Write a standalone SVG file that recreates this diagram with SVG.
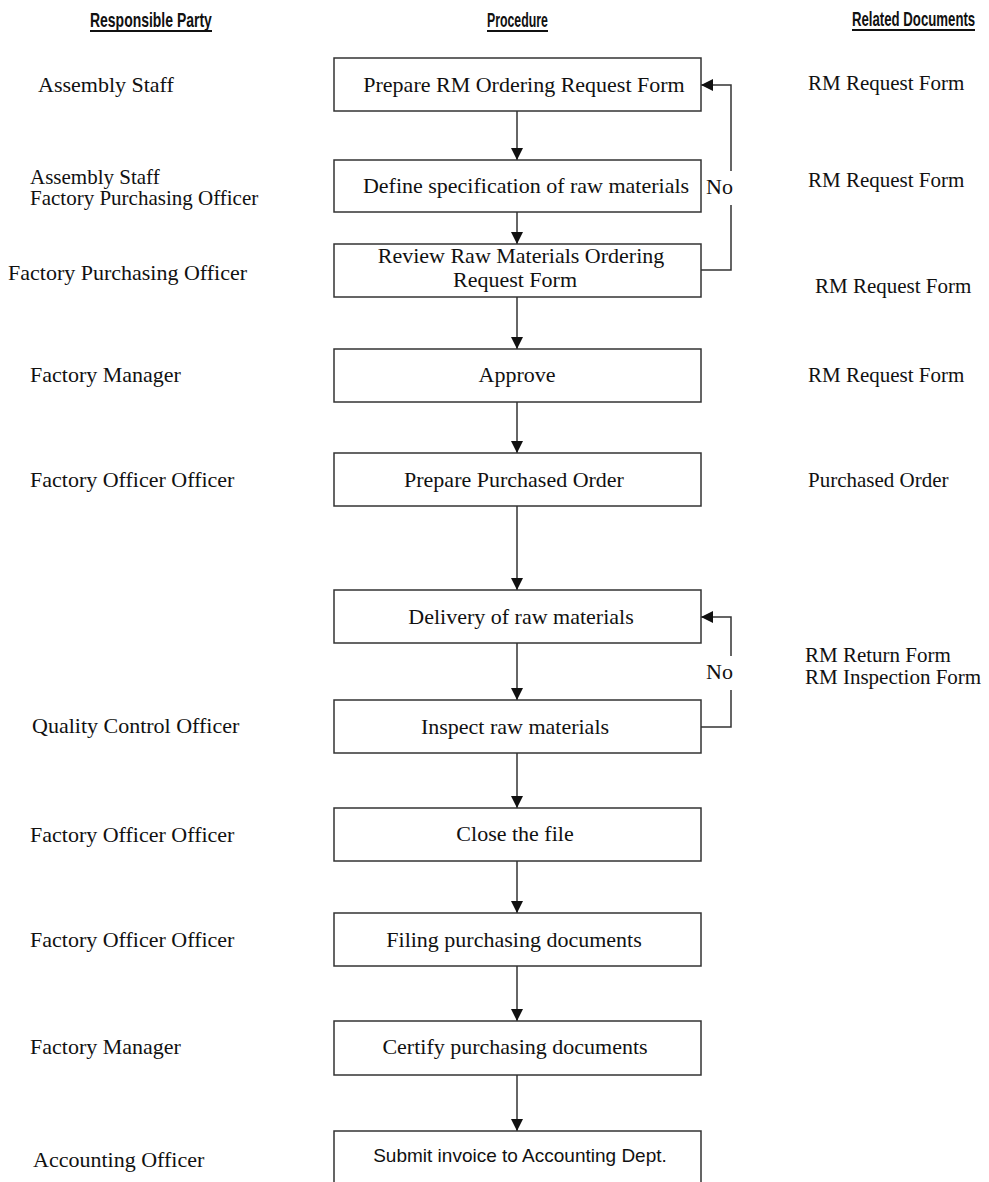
<svg xmlns="http://www.w3.org/2000/svg" width="989" height="1182" viewBox="0 0 989 1182">
  <style>
    .hdr { font-family: "Liberation Sans", Arial, sans-serif; font-weight: bold; font-size: 20px; fill: #111; }
    .ul { stroke: #111; stroke-width: 1.8; }
    .lbl { font-family: "Liberation Serif", "Times New Roman", serif; font-size: 22px; fill: #111; }
    .lbl2 { font-family: "Liberation Serif", "Times New Roman", serif; font-size: 21px; fill: #111; }
    .doc { font-family: "Liberation Serif", "Times New Roman", serif; font-size: 21px; fill: #111; }
    .box { fill: #fff; stroke: #333; stroke-width: 1.5; }
    .btx { font-family: "Liberation Serif", "Times New Roman", serif; font-size: 22px; fill: #111; text-anchor: middle; }
    .stx { font-family: "Liberation Sans", Arial, sans-serif; font-size: 19px; fill: #111; text-anchor: middle; }
    .ln { fill: none; stroke: #333; stroke-width: 1.5; }
  </style>
  <defs>
    <marker id="tri" viewBox="0 0 12 12" refX="12" refY="6" markerWidth="12" markerHeight="12" markerUnits="userSpaceOnUse" orient="auto">
      <path d="M0,0 L12,6 L0,12 Z" fill="#111"/>
    </marker>
  </defs>
  <rect width="989" height="1182" fill="#fff"/>

  <!-- column headings (condensed bold) -->
  <g id="headings">
    <text class="hdr" transform="translate(90,27) scale(0.7,1)" textLength="174" lengthAdjust="spacingAndGlyphs">Responsible Party</text>
    <line class="ul" x1="90" y1="31" x2="212" y2="31"/>
    <text class="hdr" transform="translate(487,27) scale(0.7,1)" textLength="87" lengthAdjust="spacingAndGlyphs">Procedure</text>
    <line class="ul" x1="487" y1="31" x2="548" y2="31"/>
    <text class="hdr" transform="translate(852,26) scale(0.7,1)" textLength="176" lengthAdjust="spacingAndGlyphs">Related Documents</text>
    <line class="ul" x1="852" y1="30" x2="975" y2="30"/>
  </g>

  <!-- responsible party column -->
  <g id="parties">
    <text class="lbl" x="38" y="92">Assembly Staff</text>
    <text class="lbl2" x="30" y="184">Assembly Staff</text>
    <text class="lbl2" x="30" y="205">Factory Purchasing Officer</text>
    <text class="lbl" x="8" y="280">Factory Purchasing Officer</text>
    <text class="lbl" x="30" y="382">Factory Manager</text>
    <text class="lbl" x="30" y="487">Factory Officer Officer</text>
    <text class="lbl" x="32" y="733">Quality Control Officer</text>
    <text class="lbl" x="30" y="842">Factory Officer Officer</text>
    <text class="lbl" x="30" y="947">Factory Officer Officer</text>
    <text class="lbl" x="30" y="1054">Factory Manager</text>
    <text class="lbl" x="33" y="1167">Accounting Officer</text>
  </g>

  <!-- related documents column -->
  <g id="documents">
    <text class="doc" x="808" y="90">RM Request Form</text>
    <text class="doc" x="808" y="187">RM Request Form</text>
    <text class="doc" x="815" y="293">RM Request Form</text>
    <text class="doc" x="808" y="382">RM Request Form</text>
    <text class="doc" x="808" y="487">Purchased Order</text>
    <text class="doc" x="805" y="662">RM Return Form</text>
    <text class="doc" x="805" y="684">RM Inspection Form</text>
  </g>

  <!-- connectors -->
  <g id="connectors">
    <line class="ln" x1="517" y1="111" x2="517" y2="160" marker-end="url(#tri)"/>
    <line class="ln" x1="517" y1="212" x2="517" y2="244" marker-end="url(#tri)"/>
    <line class="ln" x1="517" y1="297" x2="517" y2="349" marker-end="url(#tri)"/>
    <line class="ln" x1="517" y1="402" x2="517" y2="453" marker-end="url(#tri)"/>
    <line class="ln" x1="517" y1="506" x2="517" y2="590" marker-end="url(#tri)"/>
    <line class="ln" x1="517" y1="643" x2="517" y2="700" marker-end="url(#tri)"/>
    <line class="ln" x1="517" y1="753" x2="517" y2="808" marker-end="url(#tri)"/>
    <line class="ln" x1="517" y1="861" x2="517" y2="913" marker-end="url(#tri)"/>
    <line class="ln" x1="517" y1="966" x2="517" y2="1021" marker-end="url(#tri)"/>
    <line class="ln" x1="517" y1="1075" x2="517" y2="1131" marker-end="url(#tri)"/>
    <!-- "No" loop: review back to prepare request -->
    <polyline class="ln" points="701,270 731,270 731,205"/>
    <polyline class="ln" points="731,171 731,85 701,85" marker-end="url(#tri)"/>
    <text class="lbl" x="706" y="194">No</text>
    <!-- "No" loop: inspection back to delivery -->
    <polyline class="ln" points="701,727 731,727 731,690"/>
    <polyline class="ln" points="731,656 731,617 701,617" marker-end="url(#tri)"/>
    <text class="lbl" x="706" y="679">No</text>
  </g>

  <!-- procedure steps -->
  <g id="step-prepare-request">
    <rect class="box" x="334" y="58" width="367" height="53"/>
    <text class="btx" x="524" y="92">Prepare RM Ordering Request Form</text>
  </g>
  <g id="step-define-spec">
    <rect class="box" x="334" y="160" width="367" height="52"/>
    <text class="btx" x="526" y="193">Define specification of raw materials</text>
  </g>
  <g id="step-review">
    <rect class="box" x="334" y="244" width="367" height="53"/>
    <text class="btx" x="521" y="263">Review Raw Materials Ordering</text>
    <text class="btx" x="515" y="287">Request Form</text>
  </g>
  <g id="step-approve">
    <rect class="box" x="334" y="349" width="367" height="53"/>
    <text class="btx" x="517" y="382">Approve</text>
  </g>
  <g id="step-purchase-order">
    <rect class="box" x="334" y="453" width="367" height="53"/>
    <text class="btx" x="514" y="487">Prepare Purchased Order</text>
  </g>
  <g id="step-delivery">
    <rect class="box" x="334" y="590" width="367" height="53"/>
    <text class="btx" x="521" y="624">Delivery of raw materials</text>
  </g>
  <g id="step-inspect">
    <rect class="box" x="334" y="700" width="367" height="53"/>
    <text class="btx" x="515" y="734">Inspect raw materials</text>
  </g>
  <g id="step-close">
    <rect class="box" x="334" y="808" width="367" height="53"/>
    <text class="btx" x="515" y="841">Close the file</text>
  </g>
  <g id="step-filing">
    <rect class="box" x="334" y="913" width="367" height="53"/>
    <text class="btx" x="514" y="947">Filing purchasing documents</text>
  </g>
  <g id="step-certify">
    <rect class="box" x="334" y="1021" width="367" height="54"/>
    <text class="btx" x="515" y="1054">Certify purchasing documents</text>
  </g>
  <g id="step-submit">
    <polyline class="ln" points="334,1190 334,1131 701,1131 701,1190"/>
    <text class="stx" x="520" y="1162">Submit invoice to Accounting Dept.</text>
  </g>
</svg>
